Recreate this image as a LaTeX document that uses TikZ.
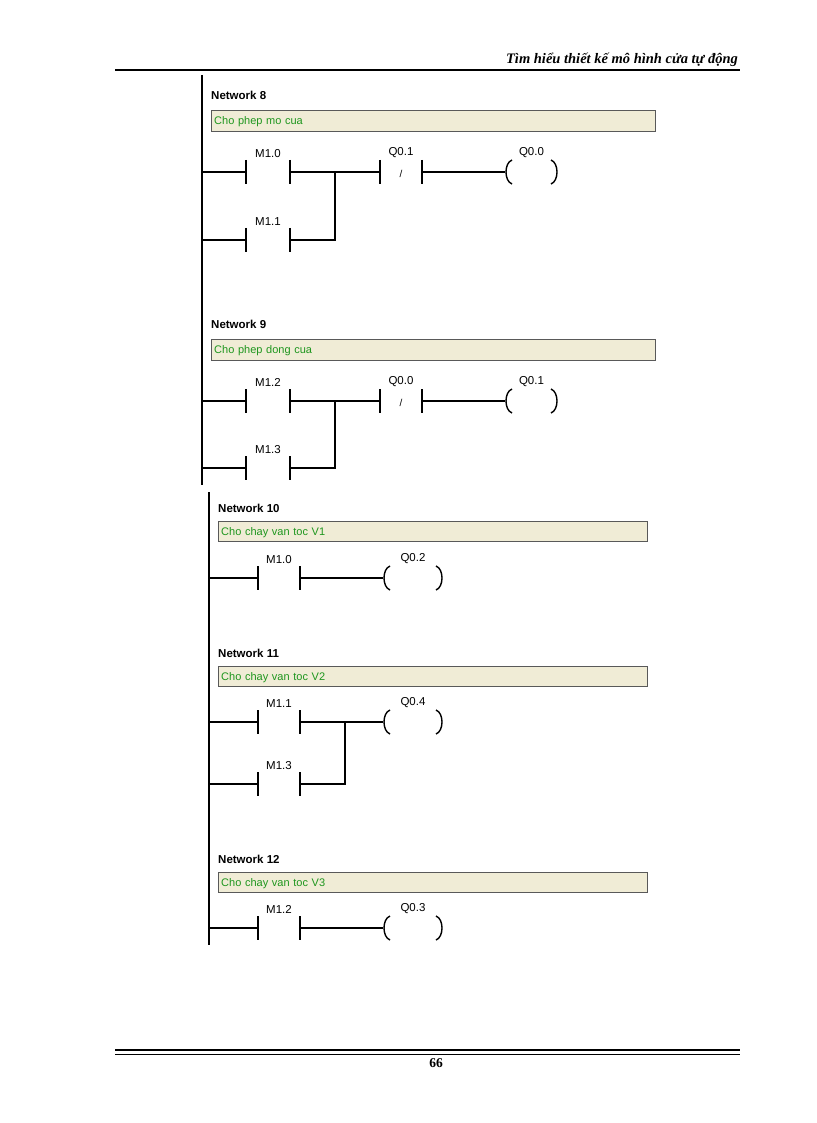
\documentclass[tikz,border=0pt]{standalone}
\usepackage{fontspec}
\setmainfont{Liberation Sans}
\newfontfamily\serif{Liberation Serif}
\definecolor{cbox}{RGB}{240,236,214}
\definecolor{ctxt}{RGB}{30,150,30}
\tikzset{
 wire/.style={line width=1.4pt},
 rail/.style={line width=2pt},
 lbl/.style={font=\fontsize{11.5}{13}\selectfont,anchor=south,inner sep=1pt},
 net/.style={font=\bfseries\fontsize{11.5}{13}\selectfont,anchor=west,inner sep=0pt},
 cmt/.style={draw=gray!70!black,fill=cbox,anchor=north west,minimum height=21pt,text=ctxt,font=\fontsize{11}{13}\selectfont,inner sep=3pt,text depth=0pt,align=left},
}
% contact: #1 name, #2 left x, #3 right x, #4 y, #5 label
\newcommand\lcontact[5]{%
 \coordinate (#1L) at (#2,#4); \coordinate (#1R) at (#3,#4);
 \draw[wire] (#2,#4-12)--(#2,#4+12); \draw[wire] (#3,#4-12)--(#3,#4+12);
 \node[lbl] (#1lab) at ({(#2+#3)/2},#4-13) {#5};}
\newcommand\lcoil[5]{%
 \coordinate (#1L) at (#2,#4); \coordinate (#1R) at (#3,#4);
 \draw[wire] (#2+7,#4-12) .. controls (#2-1,#4-9) and (#2-1,#4+9) .. (#2+7,#4+12);
 \draw[wire] (#3-7,#4-12) .. controls (#3+1,#4-9) and (#3+1,#4+9) .. (#3-7,#4+12);
 \node[lbl] (#1lab) at ({(#2+#3)/2},#4-13) {#5};}
\begin{document}
\begin{tikzpicture}[x=1pt,y=-1pt]
\useasboundingbox (0,0) rectangle (816,1123);
% header/footer
\node[anchor=base east,font=\serif\bfseries\itshape\fontsize{14.5}{16}\selectfont,inner sep=0] (hdr) at (738,64) {Tìm hiểu thiết kế mô hình cửa tự động};
\draw[line width=1.3pt] (115,70)--(740,70);
\draw[line width=1.2pt] (115,1050)--(740,1050);
\draw[line width=0.5pt] (115,1054)--(740,1054);
\node[font=\serif\bfseries\fontsize{13.5}{15}\selectfont] (pg) at (436,1063) {66};
% rails
\draw[rail] (202,75)--(202,485);
\draw[rail] (209,492)--(209,945);
% Network 8
\node[net] (n8) at (211,95) {Network 8};
\node[cmt,minimum width=444pt,text width=438pt] (c8) at (211,110) {Cho phep mo cua};
\lcontact{a}{246}{290}{172}{M1.0}
\lcontact{b}{380}{422}{172}{Q0.1}
\node[font=\fontsize{10}{12}\selectfont] (sa) at (401,174) {/};
\lcoil{c}{505}{558}{172}{Q0.0}
\lcontact{d}{246}{290}{240}{M1.1}
\coordinate (j8) at (335,172);
\draw[wire] (202,172)--(aL) (aR)--(bL) (bR)--(cL);
\draw[wire] (202,240)--(dL) (dR)--(335,240)--(j8);
% Network 9
\node[net] (n9) at (211,324) {Network 9};
\node[cmt,minimum width=444pt,text width=438pt] (c9) at (211,339) {Cho phep dong cua};
\lcontact{e}{246}{290}{401}{M1.2}
\lcontact{f}{380}{422}{401}{Q0.0}
\node[font=\fontsize{10}{12}\selectfont] (sf) at (401,403) {/};
\lcoil{g}{505}{558}{401}{Q0.1}
\lcontact{h}{246}{290}{468}{M1.3}
\coordinate (j9) at (335,401);
\draw[wire] (202,401)--(eL) (eR)--(fL) (fR)--(gL);
\draw[wire] (202,468)--(hL) (hR)--(335,468)--(j9);
% Network 10
\node[net] (n10) at (218,508) {Network 10};
\node[cmt,minimum width=429pt,text width=423pt,minimum height=20pt] (c10) at (218,521) {Cho chay van toc V1};
\lcontact{i}{258}{300}{578}{M1.0}
\lcoil{k}{383}{443}{578}{Q0.2}
\draw[wire] (209,578)--(iL) (iR)--(kL);
% Network 11
\node[net] (n11) at (218,653) {Network 11};
\node[cmt,minimum width=429pt,text width=423pt,minimum height=20pt] (c11) at (218,666) {Cho chay van toc V2};
\lcontact{l}{258}{300}{722}{M1.1}
\lcoil{m}{383}{443}{722}{Q0.4}
\lcontact{o}{258}{300}{784}{M1.3}
\coordinate (j11) at (345,722);
\draw[wire] (209,722)--(lL) (lR)--(mL);
\draw[wire] (209,784)--(oL) (oR)--(345,784)--(j11);
% Network 12
\node[net] (n12) at (218,859) {Network 12};
\node[cmt,minimum width=429pt,text width=423pt,minimum height=20pt] (c12) at (218,872) {Cho chay van toc V3};
\lcontact{p}{258}{300}{928}{M1.2}
\lcoil{q}{383}{443}{928}{Q0.3}
\draw[wire] (209,928)--(pL) (pR)--(qL);
\end{tikzpicture}
\end{document}
